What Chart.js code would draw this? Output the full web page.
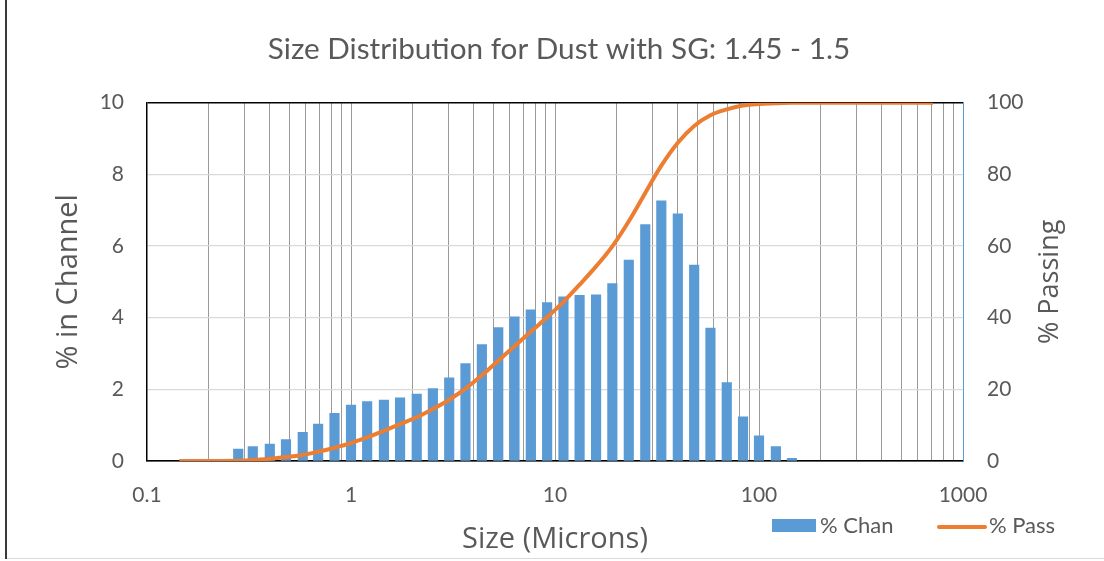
<!DOCTYPE html>
<html>
<head>
<meta charset="utf-8">
<script src="https://cdn.jsdelivr.net/npm/chart.js@4.4.1/dist/chart.umd.min.js"></script>
<style>
html,body{margin:0;padding:0;background:#fff;}
canvas{display:block;}
</style>
</head>
<body>
<canvas id="c" width="1104" height="561"></canvas>
<script>
// ---- data ----
const chartTitle = 'Size Distribution for Dust with SG: 1.45 - 1.5';
const xTitle = 'Size (Microns)';
const yLeftTitle = '% in Channel';
const yRightTitle = '% Passing';
const chanLabel = '% Chan';
const passLabel = '% Pass';

// channel sizes (microns) and % in channel
const chanSizes = [0.28, 0.33, 0.40, 0.48, 0.58, 0.69, 0.83, 1.0, 1.2, 1.45,
                   1.74, 2.1, 2.52, 3.03, 3.64, 4.38, 5.27, 6.33, 7.61, 9.15,
                   11.0, 13.2, 15.9, 19.1, 23.0, 27.7, 33.2, 40.0, 48.1, 57.8,
                   69.5, 83.5, 100, 121, 145];
const chanValues = [0.33, 0.40, 0.47, 0.60, 0.80, 1.03, 1.33, 1.56, 1.66, 1.70,
                    1.76, 1.87, 2.02, 2.32, 2.72, 3.25, 3.72, 4.02, 4.22, 4.42,
                    4.58, 4.62, 4.64, 4.95, 5.61, 6.60, 7.26, 6.90, 5.47, 3.71,
                    2.19, 1.23, 0.70, 0.40, 0.075];

// cumulative % passing
const passSizes = [0.144, 0.28, 0.33, 0.40, 0.48, 0.58, 0.69, 0.83, 1.0, 1.2, 1.45,
                   1.74, 2.1, 2.52, 3.03, 3.64, 4.38, 5.27, 6.33, 7.61, 9.15,
                   11.0, 13.2, 15.9, 19.1, 23.0, 27.7, 33.2, 40.0, 48.1, 57.8,
                   69.5, 83.5, 100, 121, 145, 713];
const passValues = [0, 0.1, 0.3, 0.6, 1.1, 1.7, 2.6, 3.7, 5.0, 6.6, 8.4,
                    10.3, 12.2, 14.5, 17.1, 20.2, 23.9, 28.0, 32.0, 36.1, 40.1,
                    44.4, 49.2, 54.3, 59.9, 66.9, 74.8, 82.4, 88.8, 93.5, 96.5,
                    98.1, 99.2, 99.6, 99.8, 100, 100];

// x axis grid (log) and labelled ticks
const xGridValues = [0.1,0.2,0.3,0.4,0.5,0.6,0.7,0.8,0.9,
                     1,2,3,4,5,6,7,8,9,
                     10,20,30,40,50,60,70,80,90,
                     100,200,300,400,500,600,700,800,900,1000];
const xTickValues = [0.1, 1, 10, 100, 1000];
const xTickLabels = ['0.1', '1', '10', '100', '1000'];

// ---- styling ----
const BLUE = '#5B9BD5';
const ORANGE = '#ED7D31';
const TEXT = '#595959';

Chart.defaults.font.family = 'Lato';
Chart.defaults.color = TEXT;

const extras = {
  id: 'extras',
  beforeDraw(chart) {
    const c = chart.ctx;
    c.save();
    c.fillStyle = '#fff';
    c.fillRect(0, 0, chart.width, chart.height);
    c.strokeStyle = '#3a3a3a';
    c.lineWidth = 2;
    c.beginPath(); c.moveTo(6, 0); c.lineTo(6, 559); c.stroke();
    c.strokeStyle = '#d9d9d9';
    c.lineWidth = 1;
    c.beginPath(); c.moveTo(7, 558.5); c.lineTo(chart.width, 558.5); c.stroke();
    c.restore();
  },
  afterDraw(chart) {
    const c = chart.ctx;
    const area = chart.chartArea;
    c.save();
    // right axis title, reading bottom to top
    c.fillStyle = TEXT;
    c.font = '27px "Open Sans"';
    c.textAlign = 'center';
    c.textBaseline = 'middle';
    c.translate(1050, (area.top + area.bottom) / 2);
    c.rotate(-Math.PI / 2);
    c.fillText(yRightTitle, 0, 0);
    c.restore();

    // legend
    c.save();
    const ds = chart.data.datasets;
    c.font = '22px Lato';
    c.textBaseline = 'middle';
    c.textAlign = 'left';
    const ly = 526;
    c.fillStyle = ds[0].backgroundColor;
    c.fillRect(772, ly - 7, 44, 13);
    c.fillStyle = TEXT;
    c.fillText(ds[0].label, 820, ly);
    c.strokeStyle = ds[1].borderColor;
    c.lineWidth = 4;
    c.lineCap = 'round';
    c.beginPath(); c.moveTo(939, ly + 1); c.lineTo(985, ly + 1); c.stroke();
    c.fillText(ds[1].label, 989, ly);
    c.restore();
  }
};

new Chart(document.getElementById('c'), {
  type: 'bar',
  data: {
    datasets: [
      {
        type: 'bar',
        label: chanLabel,
        data: chanSizes.map((s, i) => ({ x: s, y: chanValues[i] })),
        backgroundColor: BLUE,
        borderWidth: 0,
        barThickness: 9.5,
        yAxisID: 'y',
        xAxisID: 'x',
        order: 2
      },
      {
        type: 'line',
        label: passLabel,
        data: passSizes.map((s, i) => ({ x: s, y: passValues[i] })),
        borderColor: ORANGE,
        backgroundColor: ORANGE,
        borderWidth: 4,
        pointRadius: 0,
        cubicInterpolationMode: 'monotone',
        fill: false,
        yAxisID: 'y1',
        xAxisID: 'x',
        order: 1
      }
    ]
  },
  options: {
    responsive: false,
    animation: false,
    devicePixelRatio: 1,
    layout: { padding: { left: 14, right: 0, top: 0, bottom: 0 } },
    plugins: {
      legend: { display: false },
      tooltip: { enabled: false },
      title: {
        display: true,
        text: chartTitle,
        color: TEXT,
        font: { family: 'Lato', size: 29.7, weight: 'normal', lineHeight: 1.2 },
        padding: { top: 32, bottom: 35 }
      }
    },
    scales: {
      x: {
        type: 'logarithmic',
        position: 'bottom',
        min: 0.1,
        max: 1000,
        offset: false,
        afterFit: (s) => { s.height = 100; },
        afterBuildTicks: (s) => { s.ticks = xGridValues.map(v => ({ value: v })); },
        ticks: {
          autoSkip: false,
          maxRotation: 0,
          padding: 22,
          font: { size: 21 },
          color: TEXT,
          callback: (v) => {
            const k = xTickValues.indexOf(v);
            return k >= 0 ? xTickLabels[k] : '';
          }
        },
        grid: {
          offset: false,
          drawTicks: false,
          lineWidth: 1,
          color: (ctx) => (ctx.tick && (ctx.tick.value === 0.1 || ctx.tick.value === 1000)) ? 'rgba(0,0,0,0)' : '#9a9a9a'
        },
        border: { display: true, color: '#000', width: 1.5 },
        title: {
          display: true,
          text: xTitle,
          color: TEXT,
          font: { family: 'Open Sans', size: 29, lineHeight: 1.2 },
          padding: { top: 0, bottom: 4 }
        }
      },
      y: {
        type: 'linear',
        position: 'left',
        min: 0,
        max: 10,
        afterFit: (s) => { s.width = 133; },
        ticks: { stepSize: 2, padding: 23, font: { size: 21 }, color: TEXT },
        grid: {
          drawTicks: false,
          lineWidth: (ctx) => (ctx.tick && ctx.tick.value === 10) ? 1.5 : 1.2,
          color: (ctx) => (ctx.tick && (ctx.tick.value === 10 || ctx.tick.value === 0)) ? '#000' : '#d9d9d9'
        },
        border: { display: true, color: '#000', width: 1.5 },
        title: {
          display: true,
          text: yLeftTitle,
          color: TEXT,
          font: { family: 'Open Sans', size: 29, lineHeight: 1.2 },
          padding: { top: 37, bottom: 0 }
        }
      },
      y1: {
        type: 'linear',
        position: 'right',
        min: 0,
        max: 100,
        afterFit: (s) => { s.width = 141; },
        ticks: { stepSize: 20, padding: 24, font: { size: 21 }, color: TEXT },
        grid: { display: false, drawTicks: false },
        border: { display: true, color: BLUE, width: 1 }
      }
    }
  },
  plugins: [extras]
});
</script>
</body>
</html>
